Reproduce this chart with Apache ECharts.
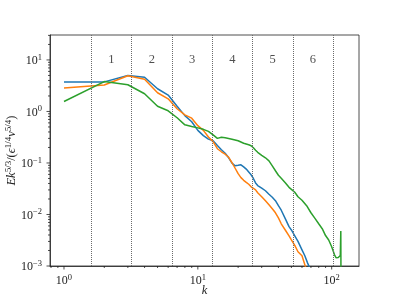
<!DOCTYPE html>
<html><head><meta charset="utf-8">
<script src="https://cdn.jsdelivr.net/npm/echarts@6/dist/echarts.min.js"></script>
<style>html,body{margin:0;padding:0;background:#fff}#c{width:399px;height:299px}</style>
</head><body><div id="c"></div>
<script>
// ---- data ----
const kBlue = [1,2,3,4,5,6,7,8,9,10,11,12,13,14,15,16,17,18,19,20,21,22,23,24,25,26,27,28,30,32,34,36,38,40,42,45,48,50,53,56,60,63,66,70,80,100,120];
const vBlue = [3.72,3.75,5.0,4.61,2.76,2.08,1.26,0.83,0.63,0.43,0.34,0.29,0.27,0.218,0.18,0.154,0.126,0.099,0.088,0.090,0.092,0.084,0.076,0.067,0.059,0.050,0.041,0.0365,0.0324,0.0289,0.0247,0.0216,0.0185,0.0148,0.0121,0.0083,0.0058,0.0050,0.00386,0.0030,0.00206,0.00158,0.00115,0.00081,0.0003,0.00008,0.00003];
const kOrange = [1,2,3,4,5,6,7,8,9,10,11,12,13,14,15,16,17,18,19,20,21,22,23,24,25,26,27,28,30,32,34,36,38,40,42,45,48,50,53,56,60,62,64,70,80,100,120];
const vOrange = [2.85,3.26,4.93,4.22,2.31,1.76,1.13,0.86,0.74,0.53,0.43,0.32,0.26,0.189,0.165,0.148,0.129,0.101,0.079,0.062,0.052,0.046,0.042,0.0386,0.0345,0.0323,0.030,0.0264,0.0221,0.0185,0.0154,0.0129,0.0108,0.0086,0.0066,0.0050,0.00386,0.00323,0.00252,0.00189,0.00158,0.00121,0.00093,0.0005,0.0002,0.00005,0.00002];
const kGreen = [1,2,3,4,5,6,7,8,9,10,11,12,13,14,15,16,18,20,22,24,25,26,27,28,30,32,34,36,38,40,42,45,48,50,53,56,60,65,70,75,80,85,90,95,100,105,108,112,114,116,117,118];
const vGreen = [1.56,3.8,3.30,2.21,1.26,1.03,0.755,0.55,0.51,0.48,0.45,0.41,0.35,0.30,0.316,0.309,0.289,0.27,0.241,0.226,0.216,0.197,0.177,0.161,0.141,0.126,0.110,0.088,0.0706,0.0577,0.0505,0.0413,0.0337,0.0308,0.027,0.0221,0.0189,0.0148,0.0108,0.0084,0.0066,0.0053,0.0039,0.0032,0.00236,0.00165,0.00144,0.00146,0.0015,0.0016,0.0048,0.00001];
const shellEdges = [1.6,3.2,6.4,12.8,25.6,51.2,102.4];
const shellNames = ['1','2','3','4','5','6'];
const shellLabelY = 10;
const xMajorTicks = [1,10,100];
const xMinorTicks = [0.8,0.9,2,3,4,5,6,7,8,9,20,30,40,50,60,70,80,90];
const yMajorTicks = [0.001,0.01,0.1,1,10];
const yMinorTicks = [0.002,0.003,0.004,0.005,0.006,0.007,0.008,0.009,0.02,0.03,0.04,0.05,0.06,0.07,0.08,0.09,0.2,0.3,0.4,0.5,0.6,0.7,0.8,0.9,2,3,4,5,6,7,8,9,20,30];

const XMIN = 0.786, XMAX = 160, YMIN = 0.001, YMAX = 30.5;
const FONT = '"Liberation Serif", "DejaVu Serif", serif';
const INK = '#222';

function zip(a, b) { return a.map((x, i) => [x, b[i]]); }
function pow10Label(v) {
  const e = Math.log10(v), r = Math.round(e);
  if (Math.abs(e - r) > 1e-6) return '';
  return '{b|10}{s|' + (r < 0 ? '\u2212' + (-r) : r) + '}';
}
const richNum = {
  b: {fontFamily: FONT, fontSize: 12, color: INK, verticalAlign: 'bottom'},
  s: {fontFamily: FONT, fontSize: 8.5, color: INK, verticalAlign: 'top', padding: [0, 0, 5, 0]}
};

const shellLabels = shellNames.map((n, i) => [Math.sqrt(shellEdges[i] * shellEdges[i + 1]), shellLabelY, n]);

function tickSeries(values, isX, len) {
  return {
    type: 'custom', silent: true, clip: false, z: 5,
    data: values.map(v => isX ? [v, YMIN] : [XMIN, v]),
    renderItem: function (params, api) {
      const p = api.coord([api.value(0), api.value(1)]);
      const shape = isX ? {x1: p[0], y1: p[1], x2: p[0], y2: p[1] + len}
                        : {x1: p[0], y1: p[1], x2: p[0] - len, y2: p[1]};
      return {type: 'line', shape: shape, style: {stroke: INK, lineWidth: 0.8}};
    }
  };
}

const chart = echarts.init(document.getElementById('c'), null, {renderer: 'canvas'});
chart.setOption({
  animation: false,
  backgroundColor: '#fff',
  grid: {left: 50, top: 35, right: 40, bottom: 33, containLabel: false, outerBoundsMode: 'none',
         show: true, borderColor: INK, borderWidth: 0.8, backgroundColor: 'transparent'},
  xAxis: {
    type: 'log', logBase: 10, min: XMIN, max: XMAX,
    axisLine: {show: true, lineStyle: {color: INK, width: 0.8}},
    axisTick: {show: false}, splitLine: {show: false}, minorTick: {show: false},
    axisLabel: {formatter: pow10Label, rich: richNum, margin: 7, showMinLabel: false, showMaxLabel: false},
    name: 'k', nameLocation: 'middle', nameGap: 18, nameMoveOverlap: false,
    nameTextStyle: {fontFamily: FONT, fontSize: 12.5, fontStyle: 'italic', color: INK}
  },
  yAxis: {
    type: 'log', logBase: 10, min: YMIN, max: YMAX,
    axisLine: {show: true, lineStyle: {color: INK, width: 0.8}},
    axisTick: {show: false}, splitLine: {show: false}, minorTick: {show: false},
    axisLabel: {formatter: pow10Label, rich: richNum, margin: 8, showMaxLabel: false},
    name: '{i|Ek}{s|5/3}{n|/(}{i|\u03f5}{s|1/4}{i|\u03bd}{s|5/4}{n|)}',
    nameLocation: 'middle', nameGap: 32, nameRotate: 90, nameMoveOverlap: false,
    nameTextStyle: {
      rich: {
        i: {fontFamily: FONT, fontSize: 12.5, fontStyle: 'italic', color: INK, verticalAlign: 'bottom'},
        n: {fontFamily: FONT, fontSize: 12.5, color: INK, verticalAlign: 'bottom'},
        s: {fontFamily: FONT, fontSize: 9, color: INK, verticalAlign: 'top', padding: [0, 0, 5, 0]}
      }
    }
  },
  series: [
    {
      type: 'scatter', data: shellLabels, symbolSize: 0, silent: true, z: 1,
      label: {show: true, position: 'inside', formatter: p => p.value[2], fontFamily: FONT, fontSize: 12.5, color: INK},
      markLine: {
        silent: true, symbol: 'none', label: {show: false},
        lineStyle: {color: '#6a6a6a', width: 1, type: [1, 1]},
        data: shellEdges.map(v => ({xAxis: v}))
      }
    },
    {type: 'line', data: zip(kBlue, vBlue), showSymbol: false, lineStyle: {color: '#1f77b4', width: 1.5}, itemStyle: {color: '#1f77b4'}, z: 2},
    {type: 'line', data: zip(kOrange, vOrange), showSymbol: false, lineStyle: {color: '#ff7f0e', width: 1.5}, itemStyle: {color: '#ff7f0e'}, z: 3},
    {type: 'line', data: zip(kGreen, vGreen), showSymbol: false, lineStyle: {color: '#2ca02c', width: 1.5}, itemStyle: {color: '#2ca02c'}, z: 4},
    tickSeries(xMajorTicks, true, 3.5),
    tickSeries(xMinorTicks, true, 2),
    tickSeries(yMajorTicks, false, 3.5),
    tickSeries(yMinorTicks, false, 2)
  ]
});
</script></body></html>
